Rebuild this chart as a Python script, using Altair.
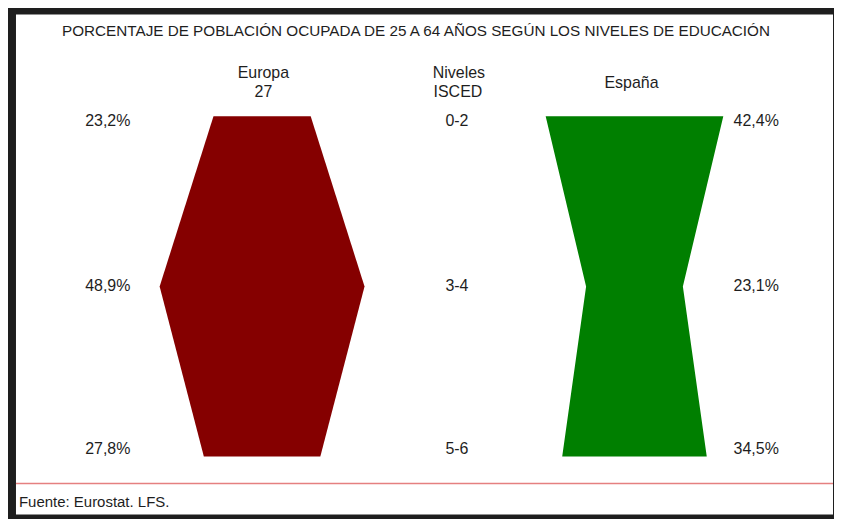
import altair as alt
import pandas as pd

# ---- data ----
levels = ["0-2", "3-4", "5-6"]
europa = [23.2, 48.9, 27.8]
espana = [42.4, 23.1, 34.5]
countries = ["Europa 27", "España"]
title_text = "PORCENTAJE DE POBLACIÓN OCUPADA DE 25 A 64 AÑOS SEGÚN LOS NIVELES DE EDUCACIÓN"
source_text = "Fuente: Eurostat. LFS."

# ---- layout constants ----
PX_PER_PCT = 4.2
VIEW_W, VIEW_H = 819, 501
centers = {"Europa 27": 246.7 / PX_PER_PCT, "España": 620 / PX_PER_PCT}
colors = ["#850000", "#007f00"]
FONT = "Liberation Sans"

rows = []
for c, vals in zip(countries, [europa, espana]):
    for i, (lev, v) in enumerate(zip(levels, vals)):
        rows.append(dict(country=c, level=lev, idx=i, value=v,
                         x=centers[c] - v / 2, x2=centers[c] + v / 2,
                         label=f"{v:.1f}".replace(".", ",") + "%"))
df = pd.DataFrame(rows)

xs = alt.Scale(domain=[0, VIEW_W / PX_PER_PCT], nice=False, zero=False)
ys = alt.Scale(domain=[-0.598, 2.340], reverse=True, nice=False, zero=False)

base = alt.Chart(df)

shapes = base.mark_area(orient="horizontal", interpolate="linear").encode(
    y=alt.Y("idx:Q", scale=ys, axis=None),
    x=alt.X("x:Q", scale=xs, axis=None),
    x2="x2:Q",
    color=alt.Color("country:N", scale=alt.Scale(domain=countries, range=colors), legend=None),
    detail="country:N",
)

dys = [5, 0, -8]
label_layers = []
for i, dy in enumerate(dys):
    sub = base.transform_filter(f"datum.idx == {i}")
    label_layers.append(
        sub.transform_filter("datum.country == 'Europa 27'").mark_text(
            font=FONT, fontSize=16, color="#1e1e1e", align="center", baseline="middle", dy=dy
        ).encode(x=alt.value(92), y=alt.Y("idx:Q", scale=ys, axis=None), text="label:N")
    )
    label_layers.append(
        sub.transform_filter("datum.country == 'España'").mark_text(
            font=FONT, fontSize=16, color="#1e1e1e", align="center", baseline="middle", dy=dy
        ).encode(x=alt.value(742), y=alt.Y("idx:Q", scale=ys, axis=None), text="label:N")
    )
    label_layers.append(
        sub.transform_filter("datum.country == 'Europa 27'").mark_text(
            font=FONT, fontSize=16, color="#1e1e1e", align="center", baseline="middle", dy=dy
        ).encode(x=alt.value(442), y=alt.Y("idx:Q", scale=ys, axis=None), text="level:N")
    )

one = alt.Chart(pd.DataFrame({"k": [0]}))

def txt(t, x, y, size=15, align="center", font=FONT):
    return one.mark_text(text=t, font=font, fontSize=size, color="#1e1e1e",
                         align=align, baseline="middle").encode(x=alt.value(x), y=alt.value(y))

title = txt(title_text, 401, 16, size=15.3)
h1 = txt("Europa", 248, 59, size=16)
h2 = txt("27", 248, 78, size=16)
h3 = txt("Niveles", 444, 59, size=16)
h4 = txt("ISCED", 443, 78, size=16)
h5 = txt("España", 617, 69, size=16)
footer = txt(source_text, 3, 489, size=15, align="left")
rule = one.mark_rule(color="#e58080", strokeWidth=1.5).encode(
    x=alt.value(0), x2=alt.value(VIEW_W), y=alt.value(470)
)

chart = alt.layer(shapes, *label_layers, title, h1, h2, h3, h4, h5, rule, footer).properties(
    width=VIEW_W, height=VIEW_H,
    background="#1e1e1e",
    padding={"left": 7, "top": 6, "right": 0, "bottom": 4},
).configure_view(fill="white", strokeWidth=0)

chart.save("out.html", embed_options={"renderer": "svg", "actions": False})
